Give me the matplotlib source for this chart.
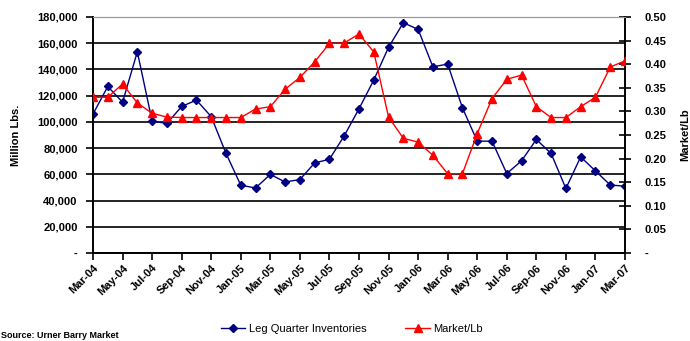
import matplotlib
matplotlib.use("Agg")
import matplotlib.pyplot as plt

# monthly observations, Mar-04 .. Mar-07
months = ["Mar-04", "Apr-04", "May-04", "Jun-04", "Jul-04", "Aug-04", "Sep-04", "Oct-04",
          "Nov-04", "Dec-04", "Jan-05", "Feb-05", "Mar-05", "Apr-05", "May-05", "Jun-05",
          "Jul-05", "Aug-05", "Sep-05", "Oct-05", "Nov-05", "Dec-05", "Jan-06", "Feb-06",
          "Mar-06", "Apr-06", "May-06", "Jun-06", "Jul-06", "Aug-06", "Sep-06", "Oct-06",
          "Nov-06", "Dec-06", "Jan-07", "Feb-07", "Mar-07"]

# leg quarter inventories, million lbs
inventories = [106000, 127000, 115000, 153500, 100600, 98800, 111800, 116600,
               104000, 76000, 51700, 49600, 59900, 54200, 56000, 68700,
               71500, 89400, 110000, 131900, 156900, 175600, 170600, 142000,
               144100, 110700, 85300, 85300, 60600, 70300, 86600, 75900,
               49200, 73300, 62600, 51900, 50900]

# market price, $/lb
market = [0.33, 0.33, 0.358, 0.318, 0.296, 0.288, 0.287, 0.287,
          0.287, 0.287, 0.287, 0.305, 0.31, 0.347, 0.372, 0.405,
          0.444, 0.445, 0.464, 0.426, 0.288, 0.243, 0.235, 0.207,
          0.168, 0.168, 0.253, 0.327, 0.368, 0.377, 0.31, 0.287,
          0.287, 0.31, 0.33, 0.394, 0.407]

left_ticks = [0, 20000, 40000, 60000, 80000, 100000, 120000, 140000, 160000, 180000]
left_labels = ["-", "20,000", "40,000", "60,000", "80,000", "100,000", "120,000",
               "140,000", "160,000", "180,000"]
right_ticks = [0, 0.05, 0.10, 0.15, 0.20, 0.25, 0.30, 0.35, 0.40, 0.45, 0.50]
right_labels = ["-", "0.05", "0.10", "0.15", "0.20", "0.25", "0.30", "0.35", "0.40",
                "0.45", "0.50"]

plt.rcParams['font.family'] = ['Liberation Sans', 'DejaVu Sans']

fig = plt.figure(figsize=(6.9, 3.41), dpi=100)
ax = fig.add_axes([93 / 690, 88 / 341, 532 / 690, 236 / 341])
ax2 = ax.twinx()

x = list(range(len(months)))
ln1, = ax.plot(x, inventories, color='#000080', lw=1.0, marker='D', ms=4.5,
               label="Leg Quarter Inventories", zorder=3)
ln2, = ax2.plot(x, market, color='#ff0000', lw=1.0, marker='^', ms=6,
                label="Market/Lb", zorder=3)

ax.set_xlim(0, len(months) - 1)
ax.set_ylim(0, 180000)
ax2.set_ylim(0, 0.5)

ax.set_xticks(x[::2])
ax.set_xticklabels(months[::2], rotation=45, ha='right', rotation_mode='anchor',
                   fontsize=8, fontweight='bold')
ax.set_yticks(left_ticks)
ax.set_yticklabels(left_labels, fontsize=8, fontweight='bold')
ax2.set_yticks(right_ticks)
ax2.set_yticklabels(right_labels, fontsize=8, fontweight='bold')

ax.yaxis.grid(True, color='black', lw=1.2)
ax.set_axisbelow(True)

for a in (ax, ax2):
    a.spines['top'].set_color('#999999')
    a.spines['top'].set_linewidth(0.8)
    for s in ('left', 'right', 'bottom'):
        a.spines[s].set_linewidth(1.2)

ax.tick_params(axis='x', direction='out', length=5, width=1.2, pad=2)
ax.tick_params(axis='y', direction='out', length=5, width=1.2, pad=6)
ax2.tick_params(axis='y', direction='inout', length=8, width=1.2, pad=10)

ax.set_ylabel("Million Lbs.", fontsize=8, fontweight='bold', labelpad=12)
ax2.set_ylabel("Market/Lb", fontsize=8, fontweight='bold', labelpad=10)

fig.legend(handles=[ln1, ln2], loc='center', bbox_to_anchor=(0.51, 0.035), ncol=2,
           frameon=False, fontsize=8, handlelength=2.2, columnspacing=3.5,
           handletextpad=0.3)

# source note in the bottom-left corner
fig.text(0.002, 0.003, "Source: Urner Barry Market", fontsize=6.5, fontweight='bold',
         ha='left', va='bottom')

fig.savefig("out.png", dpi=100)
